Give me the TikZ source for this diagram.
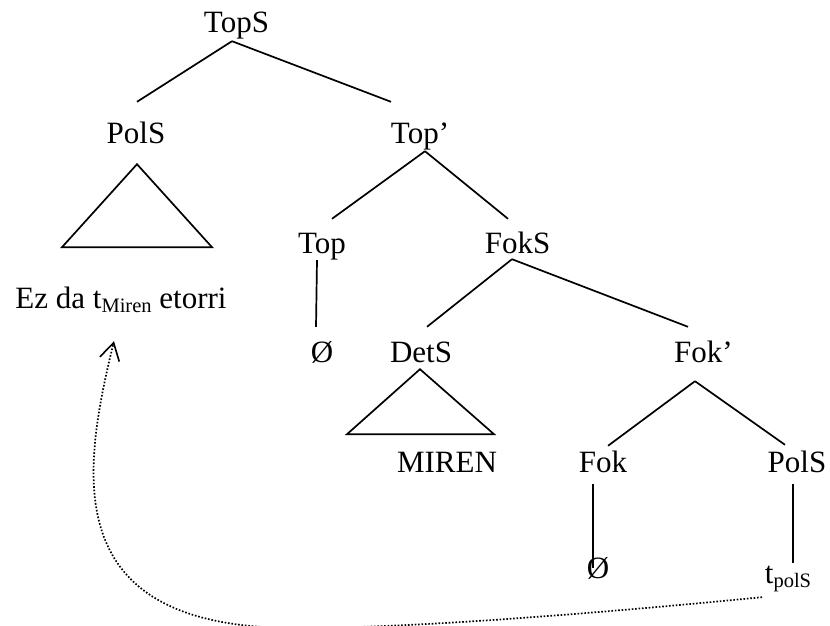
\documentclass[tikz,border=0pt]{standalone}
\usepackage{fontspec}
\setmainfont{Liberation Serif}
\usetikzlibrary{arrows.meta, positioning, calc}
\newcommand{\lowText}[1]{\raisebox{-4pt}{\fontsize{20.5}{24}\selectfont #1}}
\tikzset{
    x = 1pt, y = 1pt,
    treeNode/.style = {inner sep=0pt, text height=21pt, text depth=7pt, font=\fontsize{31}{37}\selectfont},
    treePath/.style = {draw, line width=1.7pt},
    movePath/.style = {draw, line width=1.7pt, dash pattern=on 1.6pt off 1.8pt, -{Straight Barb[length=17pt, width=20pt, line width=1.6pt]}}
}
\begin{document}
\begin{tikzpicture}[on grid]
            \clip (0,0) rectangle (830,-625);
            \node(topS)[treeNode] at (236.5,-25){TopS};
            \node(polS)[treeNode, below left=111pt and 100.5pt of topS]{PolS};
            \node(topP)[treeNode, below right=111pt and 183.5pt of topS]{Top’};
            \node(ezDa)[treeNode, below left=165pt and 15pt of polS]{Ez da t\lowText{Miren} etorri};
            \node(top)[treeNode, below left=110pt and 98pt of topP]{Top};
            \node(fokS)[treeNode, below right=110pt and 97.5pt of topP]{FokS};
            \node(nullA)[treeNode, below=109pt of top]{Ø};
            \node(detS)[treeNode, below left=109pt and 96.5pt of fokS]{DetS};
            \node(fokP)[treeNode, below right=109pt and 186pt of fokS]{Fok’};
            \node(miren)[treeNode, below right=110pt and 26pt of detS]{MIREN};
            \node(fok)[treeNode, below left=110pt and 100.5pt of fokP]{Fok};
            \node(polS2)[treeNode, below right=110pt and 93.5pt of fokP]{PolS};
            \node(nullB)[treeNode, below left=106pt and 5pt of fok]{Ø};
            \node(tPolS)[treeNode, below left=111pt and 9pt of polS2]{t\lowText{polS}};
            \path[treePath] ($(topS.south)+(-4.5,-2)$) to ($(polS.north)+(1,20)$);
            \path[treePath] ($(topS.south)+(-4.5,-2)$) to ($(topP.north)+(-29,20)$);
            \path[treePath] ($(topP.south)+(5,-1)$) to ($(top.north)+(10,13)$);
            \path[treePath] ($(topP.south)+(5,-1)$) to ($(fokS.north)+(-9.5,13)$);
            \path[treePath] ($(top.south)+(-5,0)$) to ($(nullA.north)+(-6,14)$);
            \path[treePath] ($(fokS.south)+(-5.5,1)$) to ($(detS.north)+(6,14)$);
            \path[treePath] ($(fokS.south)+(-5.5,1)$) to ($(fokP.north)+(-15.5,14)$);
            \path[treePath] ($(fokP.south)+(-8.5,-12)$) to ($(fok.north)+(5,5)$);
            \path[treePath] ($(fokP.south)+(-8.5,-12)$) to ($(polS2.north)+(-12,6)$);
            \path[treePath] ($(fok.south)+(-10,-5)$) to ($(nullB.north)+(-5,-11)$);
            \path[treePath] ($(polS2.south)+(-4,-5)$) to ($(tPolS.north)+(5,-1)$);
            \path[treePath] ($(polS.south)+(1,-14)$) -- ++(-75,-83) -- ++(150,0) -- cycle;
            \path[treePath] ($(detS.south)+(-1,0)$) -- ++(-73,-65) -- ++(147,0) -- cycle;
            \path[movePath] ($(tPolS.south)+(-26,-7)$) .. controls (610,-612) and (420,-628) .. (300,-628)
                .. controls (60,-630) and (80,-480) .. ($(ezDa.south)+(-7,-26)$);
        \end{tikzpicture}
\end{document}
